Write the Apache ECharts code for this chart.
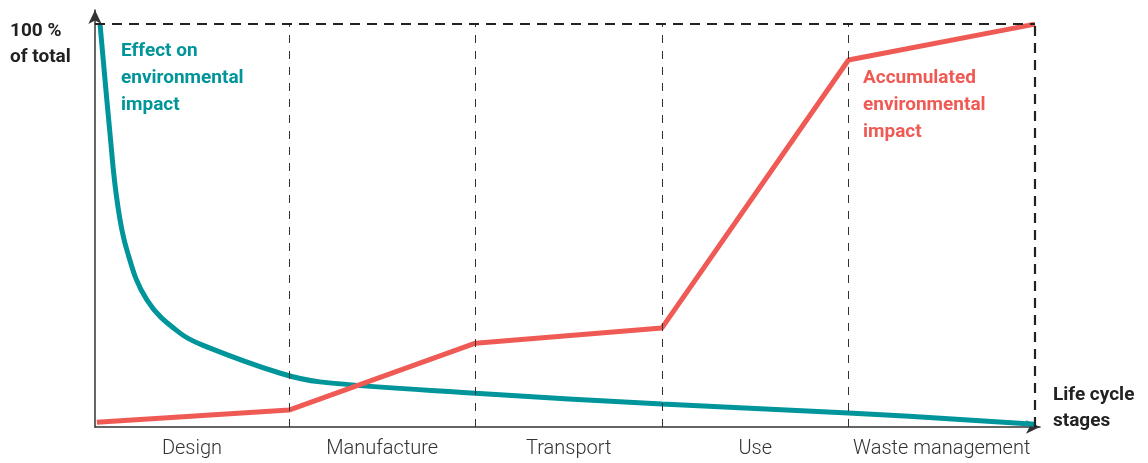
<!DOCTYPE html>
<html>
<head>
<meta charset="utf-8">
<script src="https://cdn.jsdelivr.net/npm/echarts@6/dist/echarts.min.js"></script>
<style>html,body{margin:0;padding:0;background:#fff}#c{width:1148px;height:463px}</style>
</head>
<body>
<div id="c"></div>
<script>
// Life cycle stages (each stage spans one unit on the x axis)
var stages = ['Design', 'Manufacture', 'Transport', 'Use', 'Waste management'];
var stageCenters = [0.48, 1.5, 2.5, 3.5, 4.5];
var stageDividers = [1, 2, 3, 4];
var stageEnd = 5;

// Effect on environmental impact (% of total)
var effectX = [-0.013, 0.04, 0.078, 0.131, 0.239, 0.416, 0.56, 0.95, 1.166, 2, 3, 4, 5];
var effectY = [100, 73, 56.3, 43.9, 31.5, 23.3, 19.9, 13.4, 11.2, 8.4, 5.7, 3.5, 0.7];

// Accumulated environmental impact (% of total)
var accumX = [-0.03, 1, 2, 3, 4, 5];
var accumY = [1.2, 4.2, 20.8, 24.6, 91.1, 100];

var teal = '#00959a';
var red = '#f05a55';

function zip(a, b) { return a.map(function (v, i) { return [v, b[i]]; }); }

var chart = echarts.init(document.getElementById('c'));
var dividerLines = stageDividers.map(function (x) {
  return [{ coord: [x, 0] }, { coord: [x, 100] }];
});

chart.setOption({
  animation: false,
  grid: { left: 95, right: 108, top: 10, bottom: 36 },
  xAxis: {
    type: 'value', min: -0.04, max: 5.027,
    splitLine: { show: false },
    axisTick: { show: false },
    axisLine: { show: true, onZero: false, symbol: ['none', 'arrow'], symbolSize: [10, 14], lineStyle: { color: '#333', width: 1.5 } },
    axisLabel: {
      customValues: stageCenters,
      formatter: function (v) {
        var i = stageCenters.indexOf(v);
        return i >= 0 ? stages[i] : '';
      },
      margin: 12, color: '#333', fontFamily: 'Roboto', fontWeight: 300, fontSize: 20
    }
  },
  yAxis: {
    type: 'value', min: 0, max: 103.5,
    splitLine: { show: false },
    axisTick: { show: false },
    axisLabel: { show: false },
    axisLine: { show: true, onZero: false, symbol: ['none', 'arrow'], symbolSize: [10, 14], lineStyle: { color: '#333', width: 1.5 } }
  },
  series: [
    {
      type: 'line', data: zip(effectX, effectY), smooth: 0.4, showSymbol: false,
      lineStyle: { color: teal, width: 5 }, z: 3,
      markLine: {
        silent: true, symbol: 'none', label: { show: false },
        lineStyle: { color: '#333', width: 1, type: [8, 8] },
        data: dividerLines.concat([
          [{ coord: [stageEnd, 0], lineStyle: { width: 2.2, color: '#222', type: [10, 7] } }, { coord: [stageEnd, 100] }],
          [{ coord: [-0.04, 100], lineStyle: { width: 2.2, color: '#222', type: [10, 7] } }, { coord: [stageEnd, 100] }]
        ])
      }
    },
    {
      type: 'line', data: zip(accumX, accumY), showSymbol: false,
      lineStyle: { color: red, width: 5 }, z: 3
    }
  ],
  graphic: [
    { type: 'text', left: 10, top: 18, style: { text: '100 %\nof total', fill: '#222', font: 'bold 19px Roboto', lineHeight: 26 } },
    { type: 'text', left: 121, top: 38, style: { text: 'Effect on\nenvironmental\nimpact', fill: teal, font: 'bold 19px Roboto', lineHeight: 27 } },
    { type: 'text', left: 863, top: 65, style: { text: 'Accumulated\nenvironmental\nimpact', fill: red, font: 'bold 19px Roboto', lineHeight: 27 } },
    { type: 'text', left: 1053, top: 382, style: { text: 'Life cycle\nstages', fill: '#222', font: 'bold 19px Roboto', lineHeight: 26 } }
  ]
});
</script>
</body>
</html>
